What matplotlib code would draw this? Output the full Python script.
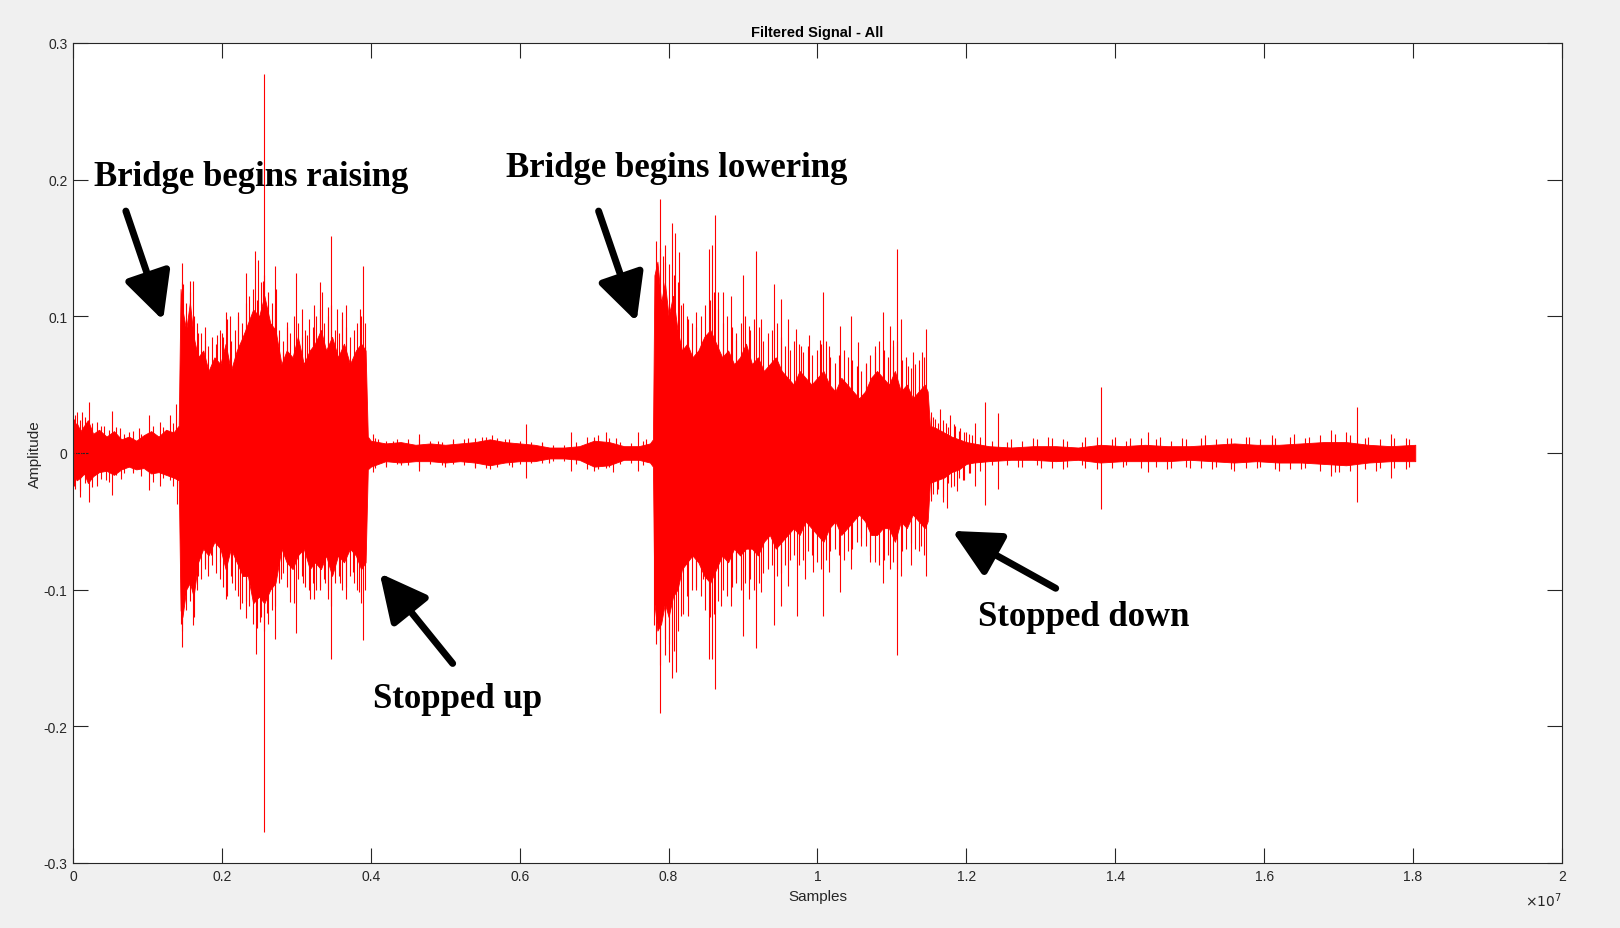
import numpy as np
import matplotlib
matplotlib.use('Agg')
import matplotlib.pyplot as plt

plt.rcParams['font.family'] = ['Liberation Sans', 'DejaVu Sans']

# Samples are given in units of 1e7, amplitudes as plotted
# Dense body of the signal: envelope (x, upper, lower)
env_x = [0.000, 0.005, 0.010, 0.015, 0.020, 0.027, 0.035, 0.045, 0.055, 0.065,
         0.075, 0.085, 0.095, 0.105, 0.115, 0.125, 0.135, 0.142,
         0.1445, 0.147, 0.152, 0.157, 0.162, 0.168, 0.175, 0.182, 0.190, 0.198,
         0.205, 0.212, 0.220, 0.228, 0.235, 0.242, 0.250, 0.257, 0.265, 0.272,
         0.280, 0.287, 0.295, 0.302, 0.310, 0.318, 0.325, 0.333, 0.340, 0.348,
         0.356, 0.364, 0.372, 0.380, 0.387, 0.393, 0.396,
         0.400, 0.420, 0.440, 0.460, 0.480, 0.500, 0.520, 0.540, 0.560, 0.580,
         0.600, 0.620, 0.640, 0.660, 0.680, 0.700, 0.720, 0.740, 0.760, 0.775, 0.779,
         0.781, 0.785, 0.790, 0.795, 0.800, 0.806, 0.812, 0.818, 0.825, 0.832,
         0.840, 0.848, 0.856, 0.864, 0.872, 0.880, 0.888, 0.896, 0.904, 0.912,
         0.920, 0.928, 0.936, 0.944, 0.952, 0.960, 0.968, 0.976, 0.984, 0.992,
         1.000, 1.008, 1.016, 1.024, 1.032, 1.040, 1.048, 1.056, 1.064, 1.072,
         1.080, 1.088, 1.096, 1.104, 1.112, 1.120, 1.128, 1.136, 1.144, 1.148,
         1.151, 1.160, 1.170, 1.180, 1.190, 1.200, 1.210,
         1.230, 1.260, 1.290, 1.320, 1.350, 1.380, 1.410, 1.440, 1.470, 1.500,
         1.530, 1.560, 1.590, 1.620, 1.650, 1.680, 1.710, 1.740, 1.770, 1.803]
env_hi = [0.018, 0.022, 0.016, 0.020, 0.024, 0.014, 0.017, 0.012, 0.016, 0.010,
          0.012, 0.009, 0.013, 0.016, 0.012, 0.017, 0.015, 0.020,
          0.120, 0.105, 0.090, 0.110, 0.085, 0.070, 0.075, 0.060, 0.070, 0.065,
          0.080, 0.060, 0.075, 0.085, 0.095, 0.105, 0.100, 0.115, 0.095, 0.090,
          0.065, 0.075, 0.070, 0.085, 0.065, 0.075, 0.080, 0.090, 0.075, 0.085,
          0.070, 0.080, 0.065, 0.075, 0.080, 0.075, 0.012,
          0.009, 0.007, 0.008, 0.006, 0.007, 0.006, 0.007, 0.008, 0.010, 0.008,
          0.007, 0.006, 0.004, 0.004, 0.005, 0.009, 0.008, 0.005, 0.005, 0.007, 0.010,
          0.130, 0.140, 0.110, 0.125, 0.100, 0.115, 0.090, 0.075, 0.080, 0.070,
          0.075, 0.085, 0.090, 0.080, 0.070, 0.075, 0.065, 0.070, 0.080, 0.065,
          0.070, 0.060, 0.065, 0.070, 0.060, 0.055, 0.050, 0.060, 0.055, 0.050,
          0.055, 0.060, 0.050, 0.045, 0.055, 0.050, 0.045, 0.040, 0.045, 0.055,
          0.060, 0.055, 0.050, 0.060, 0.045, 0.050, 0.040, 0.045, 0.050, 0.045,
          0.020, 0.018, 0.015, 0.012, 0.010, 0.008, 0.007,
          0.005, 0.004, 0.005, 0.005, 0.004, 0.006, 0.005, 0.006, 0.005, 0.005,
          0.006, 0.007, 0.006, 0.006, 0.007, 0.008, 0.008, 0.006, 0.005, 0.006]
env_lo = [-0.016, -0.020, -0.018, -0.015, -0.022, -0.017, -0.014, -0.013, -0.016, -0.012,
          -0.010, -0.012, -0.011, -0.015, -0.014, -0.016, -0.018, -0.020,
          -0.115, -0.120, -0.100, -0.095, -0.105, -0.080, -0.070, -0.075, -0.065, -0.070,
          -0.085, -0.070, -0.080, -0.090, -0.090, -0.110, -0.105, -0.110, -0.100, -0.095,
          -0.070, -0.080, -0.085, -0.075, -0.070, -0.085, -0.080, -0.085, -0.075, -0.090,
          -0.075, -0.080, -0.070, -0.075, -0.085, -0.080, -0.012,
          -0.010, -0.006, -0.007, -0.006, -0.006, -0.007, -0.006, -0.007, -0.009, -0.007,
          -0.006, -0.006, -0.004, -0.004, -0.005, -0.010, -0.009, -0.005, -0.005, -0.007, -0.010,
          -0.110, -0.130, -0.125, -0.110, -0.120, -0.105, -0.100, -0.085, -0.080, -0.075,
          -0.080, -0.090, -0.095, -0.085, -0.075, -0.080, -0.070, -0.075, -0.070, -0.070,
          -0.075, -0.065, -0.060, -0.070, -0.065, -0.060, -0.055, -0.060, -0.050, -0.055,
          -0.060, -0.065, -0.055, -0.050, -0.060, -0.055, -0.050, -0.045, -0.050, -0.060,
          -0.060, -0.055, -0.055, -0.065, -0.050, -0.055, -0.045, -0.050, -0.055, -0.050,
          -0.022, -0.020, -0.018, -0.014, -0.012, -0.008, -0.007,
          -0.006, -0.005, -0.005, -0.006, -0.005, -0.007, -0.006, -0.006, -0.006, -0.005,
          -0.006, -0.007, -0.006, -0.007, -0.007, -0.008, -0.009, -0.007, -0.006, -0.006]

# Fringe of the dense body (x, top, bottom)
fr_x = [0.003, 0.009, 0.016, 0.026, 0.037, 0.048, 0.058, 0.069, 0.080, 0.091, 0.108, 0.121, 0.134,
        0.147, 0.152, 0.157, 0.162, 0.167, 0.172, 0.177, 0.182, 0.187, 0.192,
        0.197, 0.202, 0.207, 0.212, 0.217, 0.222, 0.227, 0.232, 0.237, 0.242,
        0.247, 0.252, 0.257, 0.262, 0.267, 0.272, 0.277, 0.282, 0.287, 0.292,
        0.297, 0.302, 0.307, 0.312, 0.317, 0.322, 0.327, 0.332, 0.337, 0.342,
        0.347, 0.352, 0.357, 0.362, 0.367, 0.372, 0.377, 0.382, 0.387, 0.392,
        0.405, 0.420, 0.435, 0.450, 0.465, 0.480, 0.495, 0.510, 0.525, 0.540,
        0.555, 0.570, 0.585, 0.600, 0.615, 0.630, 0.645, 0.660, 0.675, 0.690,
        0.705, 0.720, 0.735, 0.750, 0.765,
        0.783, 0.789, 0.795, 0.801, 0.807, 0.813, 0.819, 0.825, 0.831, 0.837,
        0.843, 0.849, 0.855, 0.861, 0.867, 0.873, 0.879, 0.885, 0.891, 0.897,
        0.903, 0.909, 0.915, 0.921, 0.927, 0.933, 0.939, 0.945, 0.951, 0.957,
        0.963, 0.969, 0.975, 0.981, 0.987, 0.993, 0.999, 1.005, 1.011, 1.017,
        1.023, 1.029, 1.035, 1.041, 1.047, 1.053, 1.059, 1.065, 1.071, 1.077,
        1.083, 1.089, 1.095, 1.101, 1.107, 1.113, 1.119, 1.125, 1.131, 1.137, 1.143,
        1.155, 1.162, 1.169, 1.176, 1.183, 1.190, 1.197, 1.204, 1.212, 1.218,
        1.235, 1.255, 1.275, 1.295, 1.315, 1.335, 1.355, 1.375, 1.395, 1.415,
        1.435, 1.455, 1.475, 1.495, 1.515, 1.535, 1.555, 1.575, 1.595, 1.615,
        1.635, 1.655, 1.675, 1.695, 1.715, 1.735, 1.755, 1.775, 1.795]
fr_hi = [0.028, 0.024, 0.026, 0.022, 0.020, 0.017, 0.019, 0.014, 0.016, 0.014, 0.020, 0.019, 0.022,
         0.125, 0.110, 0.118, 0.100, 0.095, 0.088, 0.092, 0.078, 0.085, 0.080,
         0.090, 0.085, 0.098, 0.082, 0.090, 0.100, 0.095, 0.110, 0.115, 0.120,
         0.112, 0.125, 0.130, 0.118, 0.110, 0.105, 0.090, 0.082, 0.092, 0.088,
         0.100, 0.095, 0.085, 0.090, 0.098, 0.092, 0.100, 0.105, 0.095, 0.100,
         0.108, 0.090, 0.088, 0.098, 0.092, 0.085, 0.090, 0.095, 0.100, 0.095,
         0.011, 0.009, 0.010, 0.008, 0.010, 0.009, 0.008, 0.009, 0.010, 0.011,
         0.012, 0.011, 0.010, 0.009, 0.008, 0.007, 0.006, 0.006, 0.008, 0.012,
         0.013, 0.011, 0.008, 0.007, 0.009,
         0.155, 0.150, 0.140, 0.138, 0.130, 0.125, 0.110, 0.100, 0.095, 0.092,
         0.100, 0.108, 0.112, 0.118, 0.105, 0.095, 0.100, 0.092, 0.088, 0.095,
         0.100, 0.090, 0.098, 0.092, 0.082, 0.088, 0.090, 0.095, 0.085, 0.078,
         0.075, 0.082, 0.080, 0.074, 0.078, 0.072, 0.075, 0.080, 0.082, 0.070,
         0.066, 0.072, 0.075, 0.070, 0.068, 0.064, 0.060, 0.065, 0.072, 0.078,
         0.082, 0.075, 0.070, 0.078, 0.082, 0.068, 0.070, 0.062, 0.065, 0.068, 0.070,
         0.026, 0.022, 0.024, 0.019, 0.021, 0.016, 0.015, 0.014, 0.022, 0.012,
         0.009, 0.008, 0.009, 0.010, 0.011, 0.009, 0.008, 0.012, 0.010, 0.009,
         0.011, 0.010, 0.009, 0.010, 0.011, 0.010, 0.011, 0.012, 0.010, 0.011,
         0.012, 0.011, 0.013, 0.014, 0.013, 0.011, 0.010, 0.011, 0.010]
fr_lo = [-0.026, -0.028, -0.022, -0.025, -0.019, -0.021, -0.016, -0.015, -0.013, -0.017, -0.021, -0.018, -0.024,
         -0.130, -0.115, -0.108, -0.120, -0.100, -0.092, -0.085, -0.090, -0.082, -0.088,
         -0.092, -0.098, -0.105, -0.090, -0.100, -0.105, -0.110, -0.108, -0.112, -0.125,
         -0.128, -0.120, -0.130, -0.125, -0.115, -0.112, -0.095, -0.088, -0.098, -0.100,
         -0.110, -0.092, -0.090, -0.098, -0.100, -0.095, -0.100, -0.098, -0.092, -0.100,
         -0.112, -0.095, -0.090, -0.100, -0.098, -0.090, -0.095, -0.100, -0.110, -0.100,
         -0.011, -0.009, -0.008, -0.009, -0.010, -0.008, -0.009, -0.008, -0.009, -0.010,
         -0.011, -0.010, -0.009, -0.008, -0.007, -0.007, -0.006, -0.006, -0.008, -0.012,
         -0.012, -0.010, -0.008, -0.007, -0.009,
         -0.140, -0.155, -0.148, -0.140, -0.145, -0.130, -0.118, -0.105, -0.100, -0.098,
         -0.105, -0.115, -0.120, -0.118, -0.108, -0.100, -0.105, -0.098, -0.095, -0.100,
         -0.095, -0.092, -0.100, -0.095, -0.088, -0.085, -0.082, -0.090, -0.088, -0.082,
         -0.078, -0.075, -0.082, -0.078, -0.072, -0.075, -0.080, -0.085, -0.078, -0.072,
         -0.070, -0.075, -0.078, -0.072, -0.070, -0.065, -0.062, -0.068, -0.075, -0.080,
         -0.082, -0.078, -0.075, -0.080, -0.085, -0.072, -0.070, -0.066, -0.070, -0.072, -0.075,
         -0.030, -0.026, -0.032, -0.022, -0.024, -0.018, -0.020, -0.015, -0.024, -0.013,
         -0.009, -0.009, -0.010, -0.009, -0.011, -0.010, -0.009, -0.012, -0.011, -0.009,
         -0.011, -0.010, -0.011, -0.010, -0.011, -0.010, -0.012, -0.011, -0.010, -0.012,
         -0.012, -0.011, -0.013, -0.014, -0.013, -0.012, -0.011, -0.011, -0.010]

# Individual peaks above zero (x, top)
up_x = [0.001, 0.006, 0.012, 0.022, 0.032, 0.042, 0.053, 0.063, 0.075, 0.088, 0.102, 0.117, 0.130, 0.139,
        0.146, 0.148, 0.157, 0.161, 0.168, 0.177, 0.188, 0.193, 0.200, 0.206, 0.211, 0.222, 0.233,
        0.244, 0.249, 0.255, 0.257, 0.271, 0.273, 0.282, 0.287, 0.299, 0.307, 0.314, 0.324, 0.332,
        0.334, 0.343, 0.347, 0.354, 0.361, 0.367, 0.376, 0.385, 0.390, 0.392,
        0.403, 0.410, 0.430, 0.450, 0.465, 0.490, 0.510, 0.530, 0.550, 0.563, 0.580, 0.608, 0.630,
        0.669, 0.700, 0.716, 0.730, 0.759, 0.770,
        0.786, 0.788, 0.792, 0.795, 0.804, 0.808, 0.814, 0.817, 0.826, 0.837, 0.846, 0.854, 0.859,
        0.863, 0.866, 0.873, 0.884, 0.891, 0.900, 0.908, 0.918, 0.924, 0.942, 0.951, 0.960, 0.971,
        0.978, 0.988, 1.003, 1.007, 1.016, 1.030, 1.045, 1.054, 1.065, 1.077, 1.088, 1.097, 1.101,
        1.107, 1.112, 1.121, 1.128, 1.137, 1.141, 1.146,
        1.152, 1.158, 1.165, 1.172, 1.178, 1.185, 1.192, 1.200, 1.208,
        1.225, 1.242, 1.260, 1.290, 1.310, 1.330, 1.360, 1.381, 1.400, 1.420, 1.444, 1.460, 1.490,
        1.520, 1.550, 1.580, 1.610, 1.640, 1.660, 1.690, 1.710, 1.725, 1.740, 1.770, 1.790]
up_y = [0.025, 0.030, 0.030, 0.037, 0.023, 0.020, 0.031, 0.018, 0.015, 0.018, 0.028, 0.023, 0.028, 0.036,
        0.139, 0.124, 0.126, 0.126, 0.088, 0.083, 0.061, 0.086, 0.088, 0.103, 0.100, 0.103, 0.132,
        0.148, 0.141, 0.126, 0.277, 0.137, 0.120, 0.074, 0.096, 0.132, 0.105, 0.086, 0.108, 0.125,
        0.118, 0.107, 0.159, 0.105, 0.103, 0.108, 0.069, 0.105, 0.137, 0.078,
        0.014, 0.010, 0.009, 0.010, 0.014, 0.009, 0.010, 0.011, 0.012, 0.013, 0.010, 0.021, 0.008,
        0.015, 0.012, 0.015, 0.011, 0.015, 0.010,
        0.132, 0.186, 0.144, 0.152, 0.168, 0.161, 0.147, 0.108, 0.098, 0.103, 0.083, 0.149, 0.152,
        0.174, 0.118, 0.118, 0.115, 0.083, 0.130, 0.093, 0.148, 0.098, 0.124, 0.113, 0.098, 0.091,
        0.078, 0.086, 0.083, 0.118, 0.078, 0.093, 0.100, 0.081, 0.066, 0.074, 0.103, 0.093, 0.083,
        0.149, 0.098, 0.064, 0.074, 0.049, 0.074, 0.091,
        0.030, 0.025, 0.032, 0.022, 0.028, 0.020, 0.018, 0.015, 0.013,
        0.037, 0.029, 0.010, 0.011, 0.012, 0.010, 0.012, 0.048, 0.012, 0.011, 0.015, 0.012, 0.011,
        0.013, 0.011, 0.012, 0.013, 0.014, 0.012, 0.017, 0.015, 0.034, 0.012, 0.014, 0.011]

# Individual peaks below zero (x, bottom)
dn_x = [0.001, 0.010, 0.022, 0.032, 0.045, 0.053, 0.064, 0.080, 0.102, 0.117, 0.130, 0.140,
        0.1445, 0.146, 0.150, 0.161, 0.168, 0.177, 0.186, 0.197, 0.205, 0.213, 0.224, 0.233, 0.246,
        0.251, 0.257, 0.260, 0.271, 0.280, 0.291, 0.299, 0.309, 0.318, 0.324, 0.332, 0.338, 0.343,
        0.347, 0.358, 0.367, 0.376, 0.384, 0.390, 0.392,
        0.403, 0.420, 0.440, 0.465, 0.500, 0.540, 0.560, 0.590, 0.608, 0.640, 0.669, 0.700, 0.716,
        0.725, 0.759,
        0.781, 0.788, 0.795, 0.801, 0.804, 0.810, 0.817, 0.826, 0.837, 0.846, 0.854, 0.859, 0.863,
        0.871, 0.884, 0.891, 0.900, 0.908, 0.918, 0.924, 0.942, 0.951, 0.960, 0.973, 0.983, 0.994,
        1.007, 1.016, 1.030, 1.045, 1.059, 1.070, 1.088, 1.097, 1.107, 1.112, 1.126, 1.139, 1.146,
        1.152, 1.160, 1.168, 1.174, 1.180, 1.188, 1.196, 1.205,
        1.225, 1.242, 1.270, 1.300, 1.330, 1.360, 1.381, 1.410, 1.444, 1.470, 1.500, 1.530, 1.560,
        1.590, 1.620, 1.650, 1.690, 1.700, 1.725, 1.750, 1.770, 1.790]
dn_y = [-0.024, -0.032, -0.036, -0.024, -0.020, -0.031, -0.019, -0.015, -0.027, -0.024, -0.020, -0.037,
        -0.125, -0.142, -0.100, -0.126, -0.090, -0.082, -0.075, -0.080, -0.107, -0.095, -0.114, -0.121, -0.147,
        -0.124, -0.277, -0.117, -0.136, -0.092, -0.109, -0.132, -0.095, -0.107, -0.107, -0.100, -0.095, -0.107,
        -0.151, -0.095, -0.107, -0.087, -0.102, -0.137, -0.075,
        -0.014, -0.010, -0.009, -0.013, -0.010, -0.011, -0.012, -0.010, -0.018, -0.007, -0.013, -0.013, -0.011,
        -0.014, -0.013,
        -0.126, -0.190, -0.136, -0.153, -0.165, -0.160, -0.119, -0.119, -0.100, -0.092, -0.151, -0.151, -0.173,
        -0.112, -0.112, -0.092, -0.134, -0.107, -0.143, -0.102, -0.126, -0.112, -0.097, -0.119, -0.092, -0.087,
        -0.119, -0.087, -0.102, -0.085, -0.068, -0.080, -0.095, -0.085, -0.148, -0.090, -0.082, -0.068, -0.090,
        -0.035, -0.030, -0.036, -0.040, -0.025, -0.028, -0.020, -0.015,
        -0.038, -0.026, -0.010, -0.011, -0.012, -0.011, -0.041, -0.010, -0.014, -0.012, -0.011, -0.012, -0.013,
        -0.011, -0.013, -0.012, -0.017, -0.014, -0.036, -0.013, -0.018, -0.012]

x_ticks = [0, 0.2, 0.4, 0.6, 0.8, 1, 1.2, 1.4, 1.6, 1.8, 2]
x_ticklabels = ['0', '0.2', '0.4', '0.6', '0.8', '1', '1.2', '1.4', '1.6', '1.8', '2']
y_ticks = [-0.3, -0.2, -0.1, 0, 0.1, 0.2, 0.3]
y_ticklabels = ['-0.3', '-0.2', '-0.1', '0', '0.1', '0.2', '0.3']

# Annotations: (text, text position, arrow tail, arrow head)
notes = [('Bridge begins raising', (0.239, 0.202), (0.071, 0.177), (0.121, 0.097)),
         ('Bridge begins lowering', (0.811, 0.209), (0.706, 0.177), (0.757, 0.096)),
         ('Stopped up', (0.517, -0.180), (0.510, -0.154), (0.412, -0.088)),
         ('Stopped down', (1.358, -0.120), (1.320, -0.099), (1.181, -0.057))]

#-----------------------------------------------------------------
fig = plt.figure(figsize=(16.2, 9.29), dpi=100, facecolor='#f0f0f0')
ax = fig.add_axes([0.04506, 0.06997, 0.9191, 0.8827])
ax.set_facecolor('white')

red = '#ff0000'
ax.fill_between(env_x, env_lo, env_hi, color=red, lw=0.6, edgecolor=red)
ax.vlines(fr_x, fr_lo, fr_hi, color=red, lw=0.8)
ax.vlines(up_x, 0, up_y, color=red, lw=0.8)
ax.vlines(dn_x, dn_y, 0, color=red, lw=0.8)

ax.set_xlim(0, 2)
ax.set_ylim(-0.3, 0.3)
ax.set_xticks(x_ticks)
ax.set_xticklabels(x_ticklabels)
ax.set_yticks(y_ticks)
ax.set_yticklabels(y_ticklabels)
ax.tick_params(axis='both', which='major', direction='in', length=10.5, width=0.8,
               labelsize=10, colors='#262626', top=True, right=True, pad=4)
for sp in ax.spines.values():
    sp.set_color('#262626')
    sp.set_linewidth(0.8)

ax.set_title('Filtered Signal - All', fontsize=10.5, fontweight='bold', pad=5)
ax.set_xlabel('Samples', fontsize=11, color='#262626', labelpad=5)
ax.set_ylabel('Amplitude', fontsize=11, color='#262626', labelpad=1)
ax.text(1.0, -0.033, r'$\times10^{7}$', transform=ax.transAxes, ha='right', va='top',
        fontsize=10, color='#262626')

for label, txt_pos, tail, head in notes:
    ax.text(txt_pos[0], txt_pos[1], label, ha='center', va='center',
            fontsize=25, fontweight='bold', family='Liberation Serif', color='black')
    ax.annotate('', xy=head, xytext=tail,
                arrowprops=dict(arrowstyle='-|>,head_length=1.2,head_width=0.6',
                                lw=5, color='black', mutation_scale=24,
                                shrinkA=0, shrinkB=0))

plt.savefig('out.png', dpi=100, facecolor=fig.get_facecolor())
plt.close()
